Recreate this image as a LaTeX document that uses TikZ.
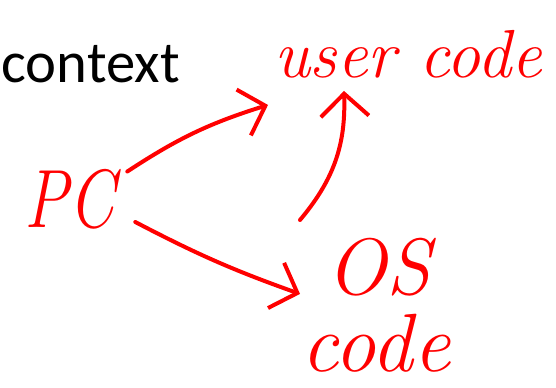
\documentclass[tikz,border=0pt]{standalone}
\usepackage{fontspec}
\newfontfamily\slidefont{Carlito}
\usetikzlibrary{arrows.meta}

\tikzset{
    pen/.style={draw=red, line width=3pt, line cap=round, line join=round},
    hand/.style={text=red, inner sep=0pt, font=\itshape\fontsize{#1}{#1}\selectfont},
    barb/.style={-{Straight Barb[length=17pt, width=36pt, line width=3pt]}}
}

\begin{document}
\begin{tikzpicture}[x=0.75pt, y=-0.75pt]
    \useasboundingbox (0,0) rectangle (556,388);

    % slide title
    \node[anchor=base east, inner sep=0pt, font=\slidefont\fontsize{44}{44}\selectfont] (ctx) at (180,83) {context};

    % hand written notes
    \node[hand=62, anchor=base, xscale=0.8, transform shape] (pc) at (70,228) {PC};
    \node[hand=51, anchor=base west] (user) at (274,78) {user code};
    \node[hand=60, anchor=base west] (os) at (326,294) {OS};
    \node[hand=62, anchor=base] (code) at (376,371) {code};
    \coordinate (tail) at (300,220);

    \draw[pen, barb] ([shift={(12,2)}]pc.north east) to[bend left=8] ([shift={(-6,26)}]user.south west);
    \draw[pen, barb] (tail) to[out=50, in=-88] ([shift={(70,12)}]user.south west);
    \draw[pen, barb] ([shift={(20,-8)}]pc.south east) to[bend left=-4] ([shift={(-26,-2)}]os.south west);
\end{tikzpicture}
\end{document}
